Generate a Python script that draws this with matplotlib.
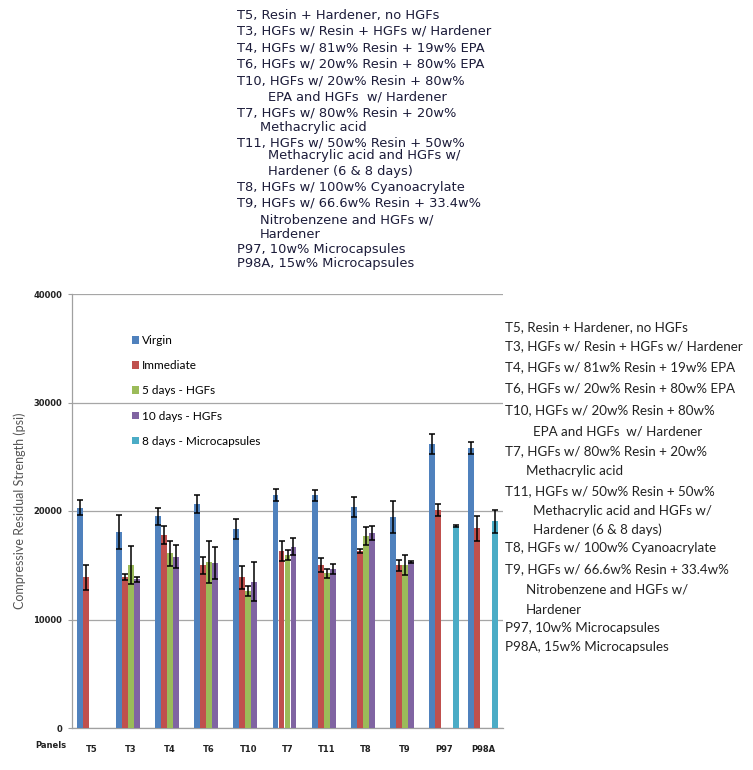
import numpy as np
import matplotlib
matplotlib.use('Agg')
import matplotlib.pyplot as plt
from matplotlib.patches import Patch

nan = np.nan

# panels and series values (psi)
panels = ['T5', 'T3', 'T4', 'T6', 'T10', 'T7', 'T11', 'T8', 'T9', 'P97', 'P98A']
series_names = ['Virgin', 'Immediate', '5 days - HGFs', '10 days - HGFs', '8 days - Microcapsules']

virgin = [20300, 18050, 19500, 20650, 18350, 21500, 21450, 20400, 19450, 26200, 25800]
virgin_err = [700, 1550, 800, 830, 890, 550, 520, 920, 1440, 920, 580]
immediate = [13900, 13900, 17750, 15000, 13900, 16350, 15000, 16350, 15000, 20100, 18400]
immediate_err = [1150, 300, 830, 770, 1070, 920, 650, 190, 520, 580, 1130]
days5 = [nan, 15050, 16100, 15300, 12600, 15950, 14250, 17700, 15000, nan, nan]
days5_err = [nan, 1750, 1130, 1900, 460, 460, 400, 800, 920, nan, nan]
days10 = [nan, 13700, 15800, 15200, 13500, 16700, 14650, 18000, 15300, nan, nan]
days10_err = [nan, 200, 1070, 1470, 1810, 800, 490, 640, 100, nan, nan]
micro8 = [nan, nan, nan, nan, nan, nan, nan, nan, nan, 18650, 19050]
micro8_err = [nan, nan, nan, nan, nan, nan, nan, nan, nan, 100, 1050]

descriptions = [
    ('T5, Resin + Hardener, no HGFs', 0),
    ('T3, HGFs w/ Resin + HGFs w/ Hardener', 0),
    ('T4, HGFs w/ 81w% Resin + 19w% EPA', 0),
    ('T6, HGFs w/ 20w% Resin + 80w% EPA', 0),
    ('T10, HGFs w/ 20w% Resin + 80w%', 0),
    ('EPA and HGFs  w/ Hardener', 2),
    ('T7, HGFs w/ 80w% Resin + 20w%', 0),
    ('Methacrylic acid', 1),
    ('T11, HGFs w/ 50w% Resin + 50w%', 0),
    ('Methacrylic acid and HGFs w/', 2),
    ('Hardener (6 & 8 days)', 2),
    ('T8, HGFs w/ 100w% Cyanoacrylate', 0),
    ('T9, HGFs w/ 66.6w% Resin + 33.4w%', 0),
    ('Nitrobenzene and HGFs w/', 1),
    ('Hardener', 1),
    ('P97, 10w% Microcapsules', 0),
    ('P98A, 15w% Microcapsules', 0),
]

colors = ['#4F81BD', '#C0504D', '#9BBB59', '#8064A2', '#4BACC6']

W, H = 753, 770
fig = plt.figure(figsize=(W / 100, H / 100), dpi=100)
ax = fig.add_axes([72 / W, 42 / H, 431 / W, 434 / H])

values = [virgin, immediate, days5, days10, micro8]
errors = [virgin_err, immediate_err, days5_err, days10_err, micro8_err]
x = np.arange(len(panels))
width = 0.153
for i, (vals, errs, c) in enumerate(zip(values, errors, colors)):
    vals = np.array(vals, dtype=float)
    errs = np.array(errs, dtype=float)
    pos = x + (i - 2) * width
    ok = ~np.isnan(vals)
    ax.bar(pos[ok], vals[ok], width=width * 0.98, color=c, zorder=3)
    ax.errorbar(pos[ok], vals[ok], yerr=errs[ok], fmt='none', ecolor='black',
                elinewidth=1.1, capsize=2, capthick=1.1, zorder=4)

ax.set_xlim(-0.5, len(panels) - 0.5)
ax.set_ylim(0, 40000)
ax.set_yticks([0, 10000, 20000, 30000, 40000])
ax.set_xticks(x)
ax.set_xticklabels(panels)
for lab in ax.get_xticklabels() + ax.get_yticklabels():
    lab.set_fontsize(6)
    lab.set_fontweight('bold')
    lab.set_color('#222222')
ax.tick_params(axis='x', length=0, pad=12)
ax.tick_params(axis='y', length=3, color='#a0a0a0', pad=4)
ax.yaxis.grid(True, color='#a6a6a6', linewidth=0.9, zorder=0)
ax.set_axisbelow(True)
for s in ['top', 'right']:
    ax.spines[s].set_visible(False)
for s in ['left', 'bottom']:
    ax.spines[s].set_color('#a0a0a0')
    ax.spines[s].set_linewidth(0.9)

ax.set_ylabel('Compressive Residual Strength (psi)', fontsize=9, color='#555555',
              family='Lato', labelpad=5)
fig.text(35 / W, 1 - 746 / H, 'Panels', fontsize=6, fontweight='bold',
         color='#222222', va='center')

handles = [Patch(facecolor=c, edgecolor='none') for c in colors]
ax.legend(handles, series_names, loc='upper left', bbox_to_anchor=(0.115, 0.93),
          frameon=False, handlelength=0.6, handleheight=0.6, handletextpad=0.2,
          labelspacing=1.2, prop={'family': 'Lato', 'size': 8.5})

# description block above the chart
top_y = [16, 31, 48, 64, 81, 97, 113, 127, 143, 156, 171, 187, 203, 220, 235, 249, 264]
top_x = {0: 237, 1: 260, 2: 268}
for (txt, ind), yy in zip(descriptions, top_y):
    fig.text(top_x[ind] / W, 1 - yy / H, txt, fontsize=9.4, color='#1c1c3a',
             va='center', ha='left')

# description block right of the chart
right_y = [327, 346, 367, 388, 410, 431, 451, 471, 491, 511, 530, 548, 569, 590, 610, 628, 647]
right_x = {0: 505, 1: 526, 2: 533}
for (txt, ind), yy in zip(descriptions, right_y):
    fig.text(right_x[ind] / W, 1 - yy / H, txt, fontsize=9.6, color='#222222',
             va='center', ha='left', family='Lato')

fig.savefig('out.png', dpi=100)
